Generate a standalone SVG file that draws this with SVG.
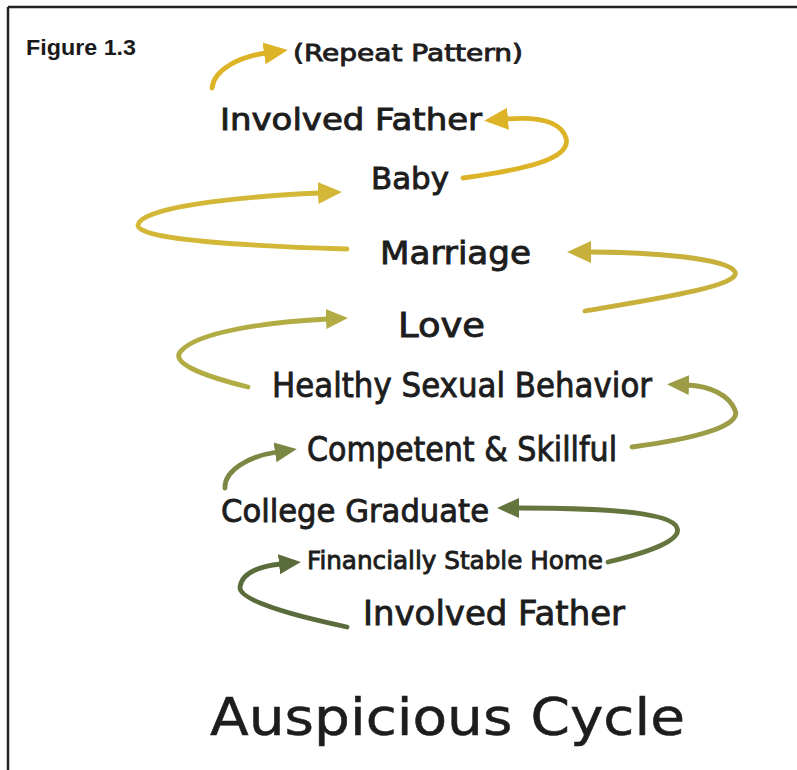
<svg xmlns="http://www.w3.org/2000/svg" width="797" height="770" viewBox="0 0 797 770">
<style>
.lbl{font-family:"DejaVu Sans","Liberation Sans",sans-serif;fill:#1d1d1d;stroke:#1d1d1d;stroke-width:0.9}
.fig{font-family:"Liberation Sans",Arial,sans-serif;font-weight:bold;fill:#1a1a1a}
.ar{fill:none;stroke-width:4.8;stroke-linecap:round}
</style>
<defs>
<marker id="m1" markerUnits="userSpaceOnUse" markerWidth="26" markerHeight="24" viewBox="0 -12 26 24" refX="2" refY="0" orient="auto"><path d="M0,-11 L24,0 L0,11 z" fill="#DDB427"/></marker>
<marker id="m2" markerUnits="userSpaceOnUse" markerWidth="26" markerHeight="24" viewBox="0 -12 26 24" refX="2" refY="0" orient="auto"><path d="M0,-11 L24,0 L0,11 z" fill="#D3B737"/></marker>
<marker id="m3" markerUnits="userSpaceOnUse" markerWidth="26" markerHeight="24" viewBox="0 -12 26 24" refX="2" refY="0" orient="auto"><path d="M0,-11 L24,0 L0,11 z" fill="#C7B13C"/></marker>
<marker id="m4" markerUnits="userSpaceOnUse" markerWidth="26" markerHeight="24" viewBox="0 -12 26 24" refX="2" refY="0" orient="auto"><path d="M0,-10 L22,0 L0,10 z" fill="#B2AC45"/></marker>
<marker id="m5" markerUnits="userSpaceOnUse" markerWidth="26" markerHeight="24" viewBox="0 -12 26 24" refX="2" refY="0" orient="auto"><path d="M0,-10 L22,0 L0,10 z" fill="#9C9B46"/></marker>
<marker id="m6" markerUnits="userSpaceOnUse" markerWidth="26" markerHeight="24" viewBox="0 -12 26 24" refX="2" refY="0" orient="auto"><path d="M0,-10 L22,0 L0,10 z" fill="#7A8843"/></marker>
<marker id="m7" markerUnits="userSpaceOnUse" markerWidth="26" markerHeight="24" viewBox="0 -12 26 24" refX="2" refY="0" orient="auto"><path d="M0,-10 L22,0 L0,10 z" fill="#64753D"/></marker>
<marker id="m8" markerUnits="userSpaceOnUse" markerWidth="26" markerHeight="24" viewBox="0 -12 26 24" refX="2" refY="0" orient="auto"><path d="M0,-10 L22,0 L0,10 z" fill="#5B6C3C"/></marker>
</defs>
<rect width="797" height="770" fill="#ffffff"/>
<g id="frame" stroke="#222" stroke-width="2.5" fill="none">
<line x1="8" y1="7" x2="797" y2="7"/>
<line x1="8" y1="7" x2="8" y2="770"/>
</g>
<text class="fig" x="26" y="55" font-size="22" textLength="110" lengthAdjust="spacingAndGlyphs">Figure 1.3</text>
<g id="connectors">
<path class="ar" stroke="#DDB427" marker-end="url(#m1)" d="M212,88 C214,70 238,57 266,53"/>
<path class="ar" stroke="#DDB427" marker-end="url(#m1)" d="M463,178 C520,170 572,160 566,138 C560,118 530,117 506,119"/>
<path class="ar" stroke="#D3B737" marker-end="url(#m2)" d="M347,249 C250,246 136,240 138,225 C140,208 230,197 320,193"/>
<path class="ar" stroke="#C7B13C" marker-end="url(#m3)" d="M585,311 C650,300 742,286 735,272 C728,258 650,252 589,252"/>
<path class="ar" stroke="#B2AC45" marker-end="url(#m4)" d="M248,387 C200,375 168,362 182,350 C198,333 262,322 328,319"/>
<path class="ar" stroke="#9C9B46" marker-end="url(#m5)" d="M632,447 C700,438 742,425 735,410 C729,395 710,386 687,385"/>
<path class="ar" stroke="#7A8843" marker-end="url(#m6)" d="M225,488 C224,470 250,456 277,452"/>
<path class="ar" stroke="#64753D" marker-end="url(#m7)" d="M608,562 C650,552 682,540 677,528 C672,510 580,508 517,508"/>
<path class="ar" stroke="#5B6C3C" marker-end="url(#m8)" d="M347,627 C290,615 238,600 240,587 C242,572 262,566 281,564"/>
</g>
<g id="n-repeat"><text class="lbl" x="293" y="61" font-size="23" textLength="230" lengthAdjust="spacingAndGlyphs">(Repeat Pattern)</text></g>
<g id="n-father-top"><text class="lbl" x="220" y="130" font-size="30" textLength="262" lengthAdjust="spacingAndGlyphs">Involved Father</text></g>
<g id="n-baby"><text class="lbl" x="371" y="189" font-size="30" textLength="78" lengthAdjust="spacingAndGlyphs">Baby</text></g>
<g id="n-marriage"><text class="lbl" x="380" y="264" font-size="32" textLength="151" lengthAdjust="spacingAndGlyphs">Marriage</text></g>
<g id="n-love"><text class="lbl" x="398" y="337" font-size="34" textLength="87" lengthAdjust="spacingAndGlyphs">Love</text></g>
<g id="n-hsb"><text class="lbl" x="272" y="397" font-size="34" textLength="380" lengthAdjust="spacingAndGlyphs">Healthy Sexual Behavior</text></g>
<g id="n-competent"><text class="lbl" x="307" y="461" font-size="34" textLength="310" lengthAdjust="spacingAndGlyphs">Competent &amp; Skillful</text></g>
<g id="n-college"><text class="lbl" x="221" y="522" font-size="32" textLength="268" lengthAdjust="spacingAndGlyphs">College Graduate</text></g>
<g id="n-fsh"><text class="lbl" x="307" y="569" font-size="25" textLength="296" lengthAdjust="spacingAndGlyphs">Financially Stable Home</text></g>
<g id="n-father-bottom"><text class="lbl" x="363" y="625" font-size="34" textLength="262" lengthAdjust="spacingAndGlyphs">Involved Father</text></g>
<g id="title"><text class="lbl" x="210" y="735" font-size="51" textLength="475" lengthAdjust="spacingAndGlyphs" style="stroke-width:0.5">Auspicious Cycle</text></g>
</svg>
